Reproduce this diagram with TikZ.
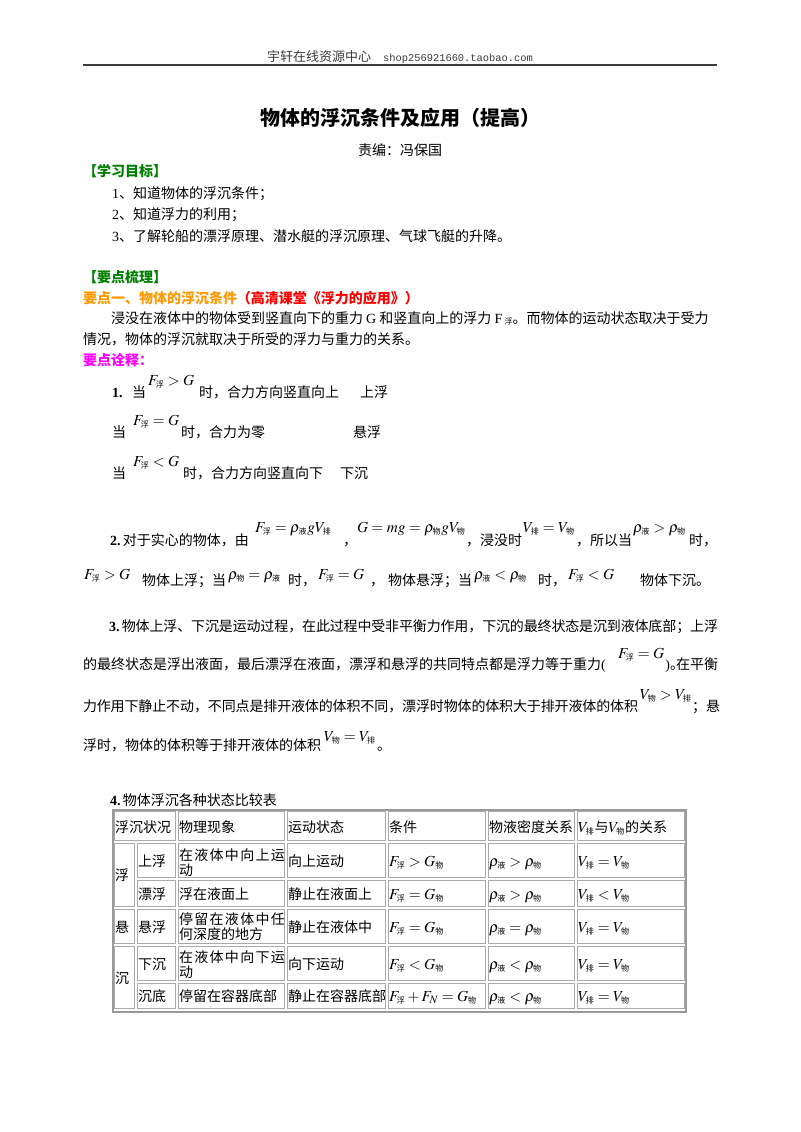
\documentclass[tikz,border=0pt]{standalone}
\usepackage{mathptmx}
\usepackage{fontspec}
\setmainfont{Noto Sans CJK SC}
\newfontfamily\lat{Liberation Serif}
\newfontfamily\mono{Liberation Mono}
\XeTeXlinebreaklocale "zh"
\XeTeXlinebreakskip=0pt plus 2pt minus 0.6pt
\definecolor{kgreen}{RGB}{0,128,0}
\definecolor{korange}{RGB}{255,153,0}
\definecolor{kred}{RGB}{255,0,0}
\definecolor{kmag}{RGB}{255,0,255}
\definecolor{hdgray}{RGB}{60,60,60}
\definecolor{tgray}{RGB}{170,170,170}
\newcommand{\zs}[1]{\hbox{\fontsize{6}{6}\selectfont #1}}
\newcommand{\mFf}{F_{\zs{浮}}}
\newcommand{\mGw}{G_{\zs{物}}}
\newcommand{\mry}{\rho_{\zs{液}}}
\newcommand{\mrw}{\rho_{\zs{物}}}
\newcommand{\mVp}{V_{\zs{排}}}
\newcommand{\mVw}{V_{\zs{物}}}
\newcommand{\jfy}{\parfillskip=0pt\relax\tolerance=9999\relax}
\begin{document}
\begin{tikzpicture}[x=0.75pt,y=-0.75pt,
  tx/.style={anchor=base west,inner sep=0pt,outer sep=0pt,font=\fontsize{10.5}{12}\selectfont},
  mth/.style={anchor=base west,inner sep=0pt,outer sep=0pt,font=\fontsize{11.5}{13}\selectfont},
  jl/.style={tx,text width=#1,align=justify},
  grn/.style={tx,font=\fontsize{10.5}{12}\selectfont\bfseries,text=kgreen},
  mag/.style={tx,font=\fontsize{10.5}{12}\selectfont\bfseries,text=kmag},
  hd/.style={anchor=base,inner sep=0pt,font=\fontsize{9.75}{11}\selectfont,text=hdgray},
  ttl/.style={anchor=base,inner sep=0pt,font=\fontsize{15}{18}\selectfont\bfseries},
  rulel/.style={line width=1.6pt,draw=hdgray},
  cellb/.style={line width=0.9pt,draw=tgray},
  outerb/.style={line width=1.3pt,draw=tgray!90!black}]
\useasboundingbox (0,0) rectangle (800,1132);
\fill[white] (0,0) rectangle (800,1132);
% header
\node[hd] (hdr) at (400,61) {宇轩在线资源中心\hspace{9pt}{\mono\fontsize{7.8}{9}\selectfont shop256921660.taobao.com}};
\coordinate (rl) at (83,65);
\coordinate (rr) at (717,65);
\draw[rulel] (rl) -- (rr);
% title
\node[ttl] (title) at (400,125) {物体的浮沉条件及应用（提高）};
\node[tx,anchor=base] (ed) at (400,155) {责编：冯保国};
\node[grn] (h1) at (83,176) {【学习目标】};
\node[tx] (g1) at (112,198) {{\lat 1}、知道物体的浮沉条件；};
\node[tx] (g2) at (112,219) {{\lat 2}、知道浮力的利用；};
\node[tx] (g3) at (112,241) {{\lat 3}、了解轮船的漂浮原理、潜水艇的浮沉原理、气球飞艇的升降。};
\node[grn] (h2) at (83,282) {【要点梳理】};
\node[tx,font=\fontsize{10.5}{12}\selectfont\bfseries] (k1) at (83,303) {\textcolor{korange}{要点一、物体的浮沉条件}\textcolor{kred}{（高清课堂《浮力的应用》）}};
\node[jl=454.5pt] (p1) at (111,323) {\jfy 浸没在液体中的物体受到竖直向下的重力 {\lat G} 和竖直向上的浮力 {\lat F}\,\raisebox{-1pt}{\fontsize{6}{6}\selectfont 浮}。而物体的运动状态取决于受力};
\node[tx] (p2) at (83,344) {情况，物体的浮沉就取决于所受的浮力与重力的关系。};
\node[mag] (h3) at (83,365) {要点诠释：};
% 1.
\node[tx] (a1n) at (112,397) {{\lat\bfseries 1.}};
\node[tx] (a1) at (132,397) {当};
\node[mth] (f1) at (148,385) {$\mFf > G$};
\node[tx] (a1b) at (199,397) {时，合力方向竖直向上};
\node[tx] (a1c) at (360,397) {上浮};
\node[tx] (a2) at (112,437) {当};
\node[mth] (f2) at (133,425) {$\mFf = G$};
\node[tx] (a2b) at (181,437) {时，合力为零};
\node[tx] (a2c) at (353,437) {悬浮};
\node[tx] (a3) at (112,478) {当};
\node[mth] (f3) at (133,466) {$\mFf < G$};
\node[tx] (a3b) at (183,478) {时，合力方向竖直向下};
\node[tx] (a3c) at (340,478) {下沉};
% 2.
\node[tx] (b1) at (110,545) {{\lat\bfseries 2.}\,对于实心的物体，由};
\node[mth] (bf1) at (255,532) {$\mFf = \mry g\mVp$};
\node[tx] (b2) at (343,545) {，};
\node[mth] (bf2) at (357,532) {$G = mg = \mrw g\mVw$};
\node[tx] (b3) at (466,545) {，浸没时};
\node[mth] (bf3) at (523,532) {$\mVp = \mVw$};
\node[tx] (b4) at (576,545) {，所以当};
\node[mth] (bf4) at (633,532) {$\mry > \mrw$};
\node[tx] (b5) at (689,545) {时，};
\node[mth] (cf1) at (84,579) {$\mFf > G$};
\node[tx] (c1) at (142,585) {物体上浮；当};
\node[mth] (cf2) at (228,579) {$\mrw = \mry$};
\node[tx] (c2) at (288,585) {时，};
\node[mth] (cf3) at (318,579) {$\mFf = G$};
\node[tx] (c3) at (370,585) {，};
\node[tx] (c4) at (388,585) {物体悬浮；当};
\node[mth] (cf4) at (474,579) {$\mry < \mrw$};
\node[tx] (c5) at (538,585) {时，};
\node[mth] (cf5) at (568,579) {$\mFf < G$};
\node[tx] (c6) at (640,585) {物体下沉。};
% 3.
\node[jl=456.75pt] (d1) at (109,631) {\jfy {\lat\bfseries 3.}\,物体上浮、下沉是运动过程，在此过程中受非平衡力作用，下沉的最终状态是沉到液体底部；上浮};
\node[jl=399.75pt] (d2) at (83,669) {\jfy 的最终状态是浮出液面，最后漂浮在液面，漂浮和悬浮的共同特点都是浮力等于重力{\lat (}};
\node[mth] (df2) at (618,658) {$\mFf = G$};
\node[tx,anchor=base east] (d2b) at (718,669) {{\lat )}\makebox[4.5pt][l]{。}在平衡};
\node[jl=416.25pt] (d3) at (83,711) {\jfy 力作用下静止不动，不同点是排开液体的体积不同，漂浮时物体的体积大于排开液体的体积};
\node[mth] (df3) at (640,699) {$\mVw > \mVp$};
\node[tx,anchor=base east] (d3b) at (720,711) {；悬};
\node[tx] (d4) at (83,750) {浮时，物体的体积等于排开液体的体积};
\node[mth] (df4) at (324,741) {$\mVw = \mVp$};
\node[tx] (d4b) at (377,750) {。};
% 4. table
\node[tx] (e1) at (110,805) {{\lat\bfseries 4.}\,物体浮沉各种状态比较表};
\draw[outerb] (113,810) rectangle (686,1012);
\foreach \xa/\ya/\xb/\yb in {113/810/177/842,177/810/286/842,286/810/387/842,387/810/487/842,487/810/576/842,576/810/686/842,
  113/842/136/908,113/908/136/945,113/945/136/1010}
  \draw[cellb] ({\xa+1.5},{\ya+1.5}) rectangle ({\xb-1.5},{\yb-1.5});
\foreach \ya/\yb in {842/879,879/908,908/945,945/982,982/1010}
  \foreach \xa/\xb in {136/177,177/286,286/387,387/487,487/576,576/686}
    \draw[cellb] ({\xa+1.5},{\ya+1.5}) rectangle ({\xb-1.5},{\yb-1.5});
% header row
\node[tx] (t01) at (115,832) {浮沉状况};
\node[tx] (t02) at (179,832) {物理现象};
\node[tx] (t03) at (288,832) {运动状态};
\node[tx] (t04) at (389,832) {条件};
\node[tx] (t05) at (489,832) {物液密度关系};
\node[mth] (t06) at (578,832) {$\mVp$\hbox{\fontsize{10.5}{12}\selectfont 与}$\mVw$\hbox{\fontsize{10.5}{12}\selectfont 的关系}};
% merged col
\node[tx] (tA1) at (115,880) {浮};
\node[tx] (tA2) at (115,932) {悬};
\node[tx] (tA3) at (115,983) {沉};
% row 1
\node[tx] (t11) at (138,866) {上浮};
\node[tx] (t12) at (179,860) {\makebox[79.5pt][s]{在\hfill 液\hfill 体\hfill 中\hfill 向\hfill 上\hfill 运}};
\node[tx] (t12b) at (179,875) {动};
\node[tx] (t13) at (288,866) {向上运动};
\node[mth] (t14) at (389,866) {$\mFf > \mGw$};
\node[mth] (t15) at (489,866) {$\mry > \mrw$};
\node[mth] (t16) at (578,866) {$\mVp = \mVw$};
% row 2
\node[tx] (t21) at (138,899) {漂浮};
\node[tx] (t22) at (179,899) {浮在液面上};
\node[tx] (t23) at (288,899) {静止在液面上};
\node[mth] (t24) at (389,899) {$\mFf = \mGw$};
\node[mth] (t25) at (489,899) {$\mry > \mrw$};
\node[mth] (t26) at (578,899) {$\mVp < \mVw$};
% row 3
\node[tx] (t31) at (138,932) {悬浮};
\node[tx] (t32) at (179,924) {\makebox[79.5pt][s]{停\hfill 留\hfill 在\hfill 液\hfill 体\hfill 中\hfill 任}};
\node[tx] (t32b) at (179,939) {何深度的地方};
\node[tx] (t33) at (288,932) {静止在液体中};
\node[mth] (t34) at (389,932) {$\mFf = \mGw$};
\node[mth] (t35) at (489,932) {$\mry = \mrw$};
\node[mth] (t36) at (578,932) {$\mVp = \mVw$};
% row 4
\node[tx] (t41) at (138,969) {下沉};
\node[tx] (t42) at (179,962) {\makebox[79.5pt][s]{在\hfill 液\hfill 体\hfill 中\hfill 向\hfill 下\hfill 运}};
\node[tx] (t42b) at (179,977) {动};
\node[tx] (t43) at (288,969) {向下运动};
\node[mth] (t44) at (389,969) {$\mFf < \mGw$};
\node[mth] (t45) at (489,969) {$\mry < \mrw$};
\node[mth] (t46) at (578,969) {$\mVp = \mVw$};
% row 5
\node[tx] (t51) at (138,1001) {沉底};
\node[tx] (t52) at (179,1001) {停留在容器底部};
\node[tx] (t53) at (288,1001) {静止在容器底部};
\node[mth] (t54) at (389,1001) {$\mFf + F_N = \mGw$};
\node[mth] (t55) at (489,1001) {$\mry < \mrw$};
\node[mth] (t56) at (578,1001) {$\mVp = \mVw$};
\end{tikzpicture}
\end{document}
